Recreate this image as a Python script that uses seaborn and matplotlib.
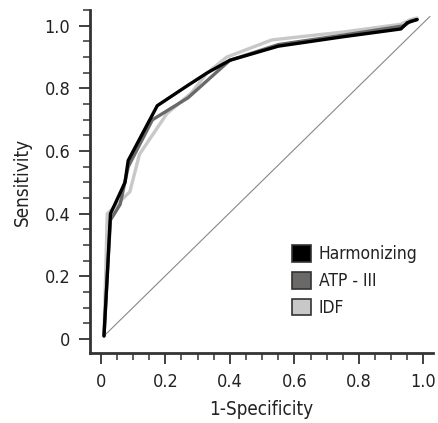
import matplotlib
matplotlib.use("Agg")
import matplotlib.pyplot as plt
from matplotlib.patches import Patch
from matplotlib.ticker import MultipleLocator
import pandas as pd
import seaborn as sns

# ROC curves
harm_x = [0.01, 0.02, 0.03, 0.075, 0.085, 0.175, 0.27, 0.33, 0.40, 0.55, 0.75, 0.93, 0.95, 0.98]
harm_y = [0.01, 0.20, 0.40, 0.50, 0.57, 0.745, 0.81, 0.85, 0.89, 0.935, 0.965, 0.99, 1.01, 1.02]

atp_x = [0.01, 0.02, 0.03, 0.06, 0.085, 0.16, 0.27, 0.40, 0.55, 0.75, 0.94, 0.96, 0.98]
atp_y = [0.01, 0.20, 0.38, 0.43, 0.55, 0.70, 0.77, 0.89, 0.94, 0.97, 1.00, 1.015, 1.02]

idf_x = [0.01, 0.015, 0.02, 0.04, 0.09, 0.12, 0.205, 0.28, 0.33, 0.39, 0.53, 0.75, 0.93, 0.96, 0.98]
idf_y = [0.02, 0.20, 0.40, 0.42, 0.47, 0.59, 0.72, 0.785, 0.85, 0.90, 0.955, 0.98, 1.005, 1.02, 1.025]

names = ["Harmonizing", "ATP - III", "IDF"]
colors = ["#000000", "#6b6868", "#c8c8c8"]

sns.set_style("ticks")
plt.rcParams['font.family'] = ['DejaVu Sans']
plt.rcParams['font.stretch'] = 'condensed'

fig = plt.figure(figsize=(4.38, 4.23), dpi=100)
ax = fig.add_axes([0.205, 0.165, 0.784, 0.811])

# chance line
ax.plot([0.01, 1.02], [0.01, 1.03], color="#888888", lw=0.8, zorder=1)

series = [(harm_x, harm_y), (atp_x, atp_y), (idf_x, idf_y)]
for (xs, ys), name, c in zip(series[::-1], names[::-1], colors[::-1]):
    df = pd.DataFrame({"x": xs, "y": ys})
    sns.lineplot(data=df, x="x", y="y", sort=False, color=c, lw=2.4, ax=ax, zorder=3)

ax.set_xlim(-0.034, 1.03)
ax.set_ylim(-0.045, 1.05)
ax.set_xticks([0, 0.2, 0.4, 0.6, 0.8, 1.0])
ax.set_xticklabels(["0", "0.2", "0.4", "0.6", "0.8", "1.0"])
ax.set_yticks([0, 0.2, 0.4, 0.6, 0.8, 1.0])
ax.set_yticklabels(["0", "0.2", "0.4", "0.6", "0.8", "1.0"])
ax.xaxis.set_minor_locator(MultipleLocator(0.05))
ax.yaxis.set_minor_locator(MultipleLocator(0.05))
ax.tick_params(which="major", length=8, width=1.3, color="#333333", labelsize=13,
               labelcolor="#222222", pad=6)
ax.tick_params(which="minor", length=5, width=1.1, color="#333333")
ax.set_xlabel("1-Specificity", fontsize=13.5, labelpad=7, color="#222222")
ax.set_ylabel("Sensitivity", fontsize=13.5, labelpad=9, color="#222222")

for s in ["top", "right"]:
    ax.spines[s].set_visible(False)
for s in ["left", "bottom"]:
    ax.spines[s].set_linewidth(2)
    ax.spines[s].set_color("#333333")

handles = [Patch(facecolor=c, edgecolor="#333333", lw=1.2) for c in colors]
leg = ax.legend(handles, names, loc="lower right", bbox_to_anchor=(1.0, 0.06), frameon=False,
                fontsize=12.5, handlelength=1.1, handleheight=1.1, handletextpad=0.45, labelspacing=0.5)
for t in leg.get_texts():
    t.set_color("#222222")

fig.savefig("out.png", dpi=100)
